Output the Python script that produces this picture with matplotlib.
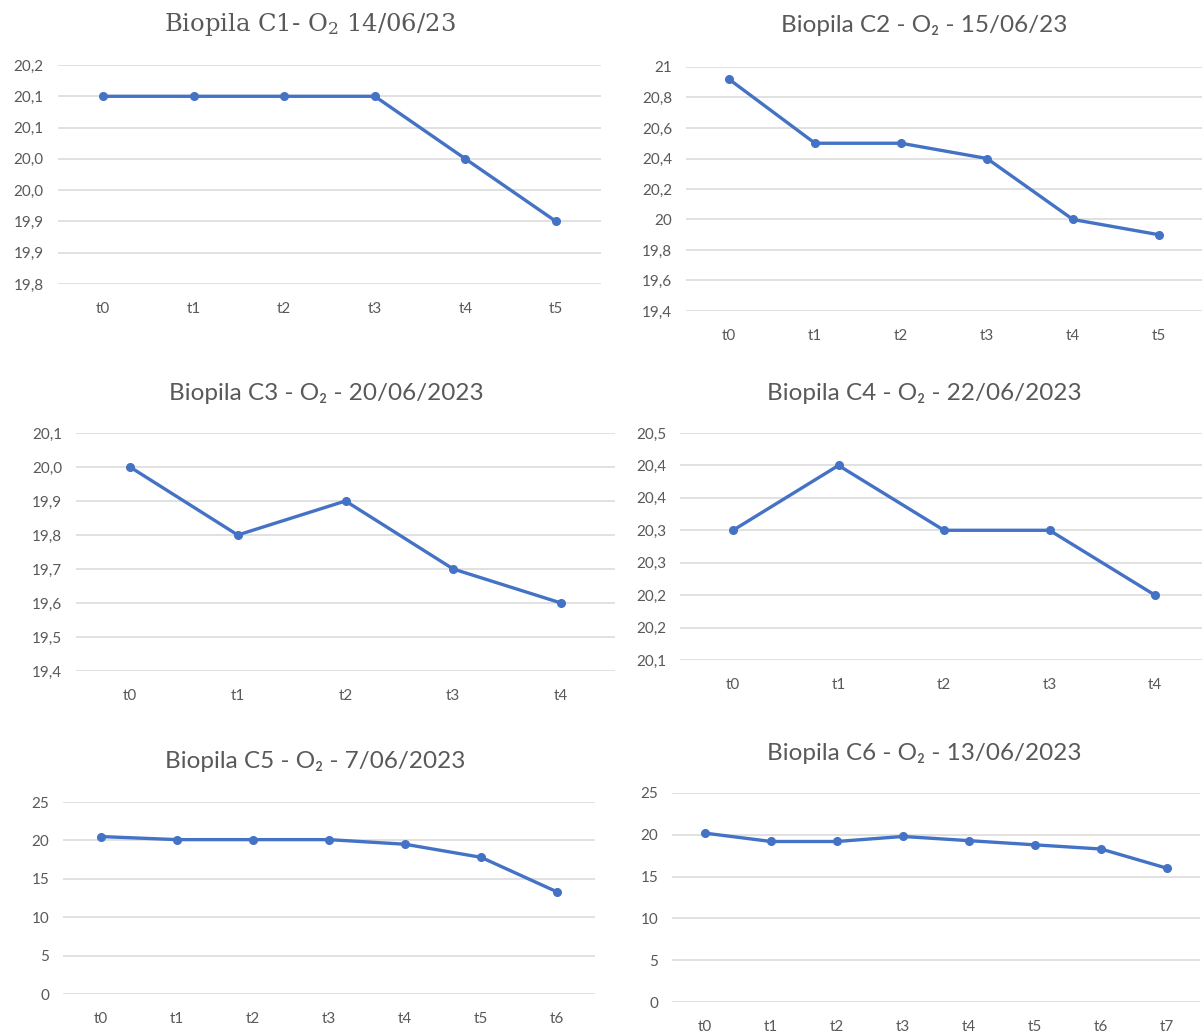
import matplotlib
matplotlib.use('Agg')
import matplotlib.pyplot as plt
import numpy as np

plt.rcParams['mathtext.fontset'] = 'dejavuserif'

# O2 readings per biopile
c1_labels = ['t0', 't1', 't2', 't3', 't4', 't5']
c1_vals   = [20.10, 20.10, 20.10, 20.10, 20.00, 19.90]
c1_ticks  = [19.80, 19.85, 19.90, 19.95, 20.00, 20.05, 20.10, 20.15]
c1_tlabs  = ['19,8', '19,9', '19,9', '20,0', '20,0', '20,1', '20,1', '20,2']

c2_labels = ['t0', 't1', 't2', 't3', 't4', 't5']
c2_vals   = [20.92, 20.5, 20.5, 20.4, 20.0, 19.9]
c2_ticks  = [19.4, 19.6, 19.8, 20.0, 20.2, 20.4, 20.6, 20.8, 21.0]
c2_tlabs  = ['19,4', '19,6', '19,8', '20', '20,2', '20,4', '20,6', '20,8', '21']

c3_labels = ['t0', 't1', 't2', 't3', 't4']
c3_vals   = [20.0, 19.8, 19.9, 19.7, 19.6]
c3_ticks  = [19.4, 19.5, 19.6, 19.7, 19.8, 19.9, 20.0, 20.1]
c3_tlabs  = ['19,4', '19,5', '19,6', '19,7', '19,8', '19,9', '20,0', '20,1']

c4_labels = ['t0', 't1', 't2', 't3', 't4']
c4_vals   = [20.30, 20.40, 20.30, 20.30, 20.20]
c4_ticks  = [20.10, 20.15, 20.20, 20.25, 20.30, 20.35, 20.40, 20.45]
c4_tlabs  = ['20,1', '20,2', '20,2', '20,3', '20,3', '20,4', '20,4', '20,5']

c5_labels = ['t0', 't1', 't2', 't3', 't4', 't5', 't6']
c5_vals   = [20.5, 20.1, 20.1, 20.1, 19.5, 17.8, 13.3]
c5_ticks  = [0, 5, 10, 15, 20, 25]
c5_tlabs  = ['0', '5', '10', '15', '20', '25']

c6_labels = ['t0', 't1', 't2', 't3', 't4', 't5', 't6', 't7']
c6_vals   = [20.2, 19.2, 19.2, 19.8, 19.3, 18.8, 18.3, 16.0]
c6_ticks  = [0, 5, 10, 15, 20, 25]
c6_tlabs  = ['0', '5', '10', '15', '20', '25']

titles = [r'Biopila C1- O$_2$ 14/06/23', 'Biopila C2 - O₂ - 15/06/23',
          'Biopila C3 - O₂ - 20/06/2023', 'Biopila C4 - O₂ - 22/06/2023',
          'Biopila C5 - O₂ - 7/06/2023', 'Biopila C6 - O₂ - 13/06/2023']

W, H = 1202, 1034
fig = plt.figure(figsize=(W/100, H/100), dpi=100)

# pixel layout: first/last category x, top/bottom gridline y, title position
panels = [
    (c1_labels, c1_vals, c1_ticks, c1_tlabs, 103, 556, 65, 284, 310, 25),
    (c2_labels, c2_vals, c2_ticks, c2_tlabs, 729, 1159, 67, 311, 924, 25),
    (c3_labels, c3_vals, c3_ticks, c3_tlabs, 130, 561, 433, 671, 326, 394),
    (c4_labels, c4_vals, c4_ticks, c4_tlabs, 733, 1155, 433, 660, 924, 394),
    (c5_labels, c5_vals, c5_ticks, c5_tlabs, 101, 557, 802, 994, 315, 762),
    (c6_labels, c6_vals, c6_ticks, c6_tlabs, 705, 1167, 793, 1002, 924, 753),
]

grey = '#595959'
for k, (labs, vals, ticks, tlabs, x0, x1, ytop, ybot, tx, ty) in enumerate(panels):
    n = len(labs)
    step = (x1 - x0) / (n - 1)
    left = x0 - step / 2
    right = x1 + step / 2
    ax = fig.add_axes([left / W, 1 - ybot / H, (right - left) / W, (ybot - ytop) / H])
    ax.set_xlim(-0.5, n - 0.5)
    ax.set_ylim(ticks[0], ticks[-1])
    ax.plot(np.arange(n), vals, color='#4472C4', lw=2.4, marker='o', ms=5.5,
            clip_on=False, zorder=3)
    ax.set_xticks(np.arange(n))
    ax.set_xticklabels(labs)
    ax.set_yticks(ticks)
    ax.set_yticklabels(tlabs)
    for s in ax.spines.values():
        s.set_visible(False)
    ax.grid(axis='y', color='#D9D9D9', lw=1.1)
    ax.set_axisbelow(True)
    ax.tick_params(length=0, labelsize=11, labelcolor=grey)
    ax.tick_params(axis='x', pad=13)
    ax.tick_params(axis='y', pad=10)
    for t in ax.get_xticklabels() + ax.get_yticklabels():
        t.set_family(['Lato', 'DejaVu Sans'])
    if k == 0:
        fig.text(tx / W, 1 - ty / H, titles[k], ha='center', va='center',
                 fontsize=17.5, color=grey, family='DejaVu Serif')
    else:
        fig.text(tx / W, 1 - ty / H, titles[k], ha='center', va='center',
                 fontsize=17.5, color=grey, family=['Lato', 'DejaVu Sans'])

fig.savefig('out.png', dpi=100)
